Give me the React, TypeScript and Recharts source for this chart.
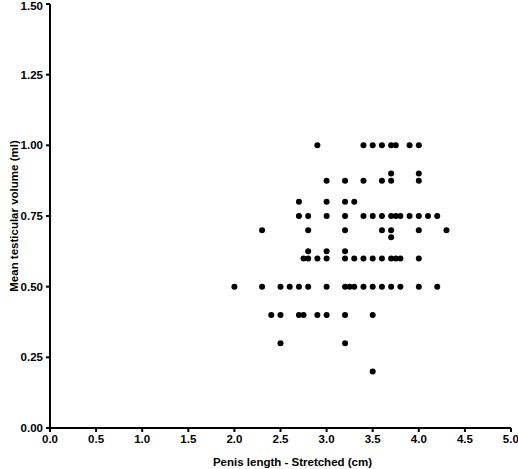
import React from 'react';
import { ScatterChart, Scatter, XAxis, YAxis } from 'recharts';

// stretched penis length (cm), paired with the volume below
const penisLength = [
  2.9, 3.4, 3.5, 3.6, 3.7, 3.75, 3.9, 4.0,
  3.7, 4.0,
  3.0, 3.2, 3.4, 3.6, 3.7, 4.0,
  2.7, 3.0, 3.2, 3.3,
  2.7, 2.8, 3.0, 3.2, 3.4, 3.5, 3.6, 3.7, 3.75, 3.8, 3.9, 4.0, 4.1, 4.2,
  2.3, 2.8, 3.2, 3.6, 3.7, 4.0, 4.3,
  3.7,
  2.8, 3.0, 3.2,
  2.75, 2.8, 2.9, 3.0, 3.2, 3.3, 3.4, 3.5, 3.6, 3.7, 3.75, 3.8, 4.0,
  2.0, 2.3, 2.5, 2.6, 2.7, 2.8, 3.0, 3.2, 3.25, 3.3, 3.4, 3.5, 3.6, 3.7, 3.8, 4.0, 4.2,
  2.4, 2.5, 2.7, 2.75, 2.9, 3.0, 3.2, 3.5,
  2.5, 3.2,
  3.5,
];

// mean testicular volume (ml)
const testicularVolume = [
  1.0, 1.0, 1.0, 1.0, 1.0, 1.0, 1.0, 1.0,
  0.9, 0.9,
  0.875, 0.875, 0.875, 0.875, 0.875, 0.875,
  0.8, 0.8, 0.8, 0.8,
  0.75, 0.75, 0.75, 0.75, 0.75, 0.75, 0.75, 0.75, 0.75, 0.75, 0.75, 0.75, 0.75, 0.75,
  0.7, 0.7, 0.7, 0.7, 0.7, 0.7, 0.7,
  0.675,
  0.625, 0.625, 0.625,
  0.6, 0.6, 0.6, 0.6, 0.6, 0.6, 0.6, 0.6, 0.6, 0.6, 0.6, 0.6, 0.6,
  0.5, 0.5, 0.5, 0.5, 0.5, 0.5, 0.5, 0.5, 0.5, 0.5, 0.5, 0.5, 0.5, 0.5, 0.5, 0.5, 0.5,
  0.4, 0.4, 0.4, 0.4, 0.4, 0.4, 0.4, 0.4,
  0.3, 0.3,
  0.2,
];

const xTicks = [0, 0.5, 1, 1.5, 2, 2.5, 3, 3.5, 4, 4.5, 5];
const yTicks = [0, 0.25, 0.5, 0.75, 1, 1.25, 1.5];

const data = penisLength.map((len, i) => ({ len, vol: testicularVolume[i] }));

const font = "'Liberation Sans', Arial, Helvetica, sans-serif";
const tickStyle = { fontFamily: font, fontSize: 11.5, fontWeight: 'bold', fill: '#000' };

const Dot = (props: any) => <circle cx={props.cx} cy={props.cy} r={3} fill="#000" />;

export default function App() {
  return (
    <div style={{ position: 'absolute', left: 0, top: 0, background: '#fff' }}>
      <ScatterChart width={518} height={469} margin={{ top: 4, right: 7, bottom: 0, left: 0 }}>
        <XAxis
          type="number"
          dataKey="len"
          domain={[0, 5]}
          ticks={xTicks}
          tickFormatter={(v: number) => v.toFixed(1)}
          height={41}
          axisLine={{ stroke: '#000', strokeWidth: 2 }}
          tickLine={{ stroke: '#000', strokeWidth: 2 }}
          tickSize={4}
          tickMargin={3}
          tick={tickStyle}
          label={{
            value: 'Penis length - Stretched (cm)',
            position: 'insideBottom',
            offset: 3,
            dx: 12,
            style: { fontFamily: font, fontSize: 11.5, fontWeight: 'bold', fill: '#000' },
          }}
        />
        <YAxis
          type="number"
          dataKey="vol"
          domain={[0, 1.5]}
          ticks={yTicks}
          tickFormatter={(v: number) => v.toFixed(2)}
          width={50}
          axisLine={{ stroke: '#000', strokeWidth: 2 }}
          tickLine={{ stroke: '#000', strokeWidth: 2 }}
          tickSize={4}
          tickMargin={3}
          tick={tickStyle}
          label={{
            value: 'Mean testicular volume (ml)',
            angle: -90,
            position: 'insideLeft',
            offset: 14,
            style: { textAnchor: 'middle', fontFamily: font, fontSize: 11.5, fontWeight: 'bold', fill: '#000' },
          }}
        />
        <Scatter data={data} shape={Dot} isAnimationActive={false} />
      </ScatterChart>
    </div>
  );
}
